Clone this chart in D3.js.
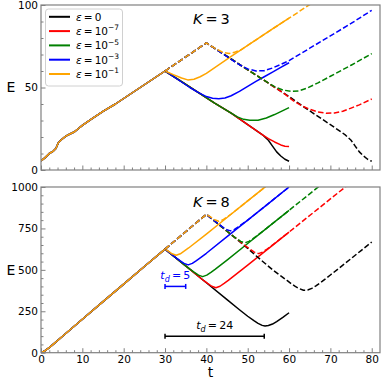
<!DOCTYPE html>
<html><head><meta charset="utf-8">
<script src="https://cdn.jsdelivr.net/npm/d3@7"></script>
<style>body{margin:0;background:#fff}svg{display:block}text{font-family:"DejaVu Sans",sans-serif}</style>
</head><body><script>
// ---------- data ----------
const seriesNames = ["black","red","green","blue","orange"];
const seriesColors = ["black","red","green","blue","orange"];
const epsExponents = [null,"−7","−5","−3","−1"];
const tMajorTicks = [0,10,20,30,40,50,60,70,80];
const eTicksK3 = [0,50,100];
const eTicksK8 = [0,250,500,750,1000];

// K = 3
const k3Common = [[0,5.5],[1,7.5],[2,10],[3,11.5],[3.6,13],[4.2,16.5],[5,18.5],[6,20.5],[7,21.8],[8,23],[9,25],[10,27],[12,30.5],[15,35.5],[18,40],[21,45],[24,50],[27,55],[30,60]];
const k3SolidBlack = [[30,60],[34,53.5],[38,47],[42,40.5],[46,34.5],[50,27.5],[53.5,21.5],[55,18],[56,14.5],[57,11],[58,8.5],[59,6.5],[60,5.3]];
const k3SolidRed = [[30,60],[34,53.5],[38,47],[42,40.5],[46,34.5],[50,27.5],[53.5,21.5],[55,19],[56.5,17],[58,15.2],[59,14.4],[60,14.3]];
const k3SolidGreen = [[30,60],[34,53.5],[38,47],[42,40.5],[46,34.5],[47.5,32.2],[49,30.7],[50.5,30.1],[52.5,30.2],[54.5,31.5],[56.5,33.6],[58.5,36],[60,37.8]];
const k3SolidBlue = [[30,60],[33,55],[36,50],[38,47],[40,44.5],[41.5,43.5],[43,43.2],[44.5,43.6],[46,45],[48,47.7],[50,50.7],[52,53.7],[54,56.5],[56,59.3],[58,62.2],[60,65]];
const k3SolidOrange = [[30,60],[32,57.8],[34,55.8],[35.5,54.6],[37,55],[38.5,56.5],[40,58.6],[43,63.7],[46,68.8],[50,75.5],[53,80.5],[56,85.5],[60,92]];
const k3DashBlack = [[30,60],[35,68.5],[40,77],[44,70.5],[48,64],[52,57.5],[56,51],[60,44.5],[64,37.5],[67,32.5],[70,27.5],[73.5,21.5],[75,18],[76,14.5],[77,11],[78,8.5],[79,6.5],[80,5.3]];
const k3DashRed = [[30,60],[35,68.5],[40,77],[44,70.5],[48,64],[52,57.5],[56,51],[59,46],[61,42],[63,39],[65,36.8],[67,35.2],[69,34.4],[71,34.6],[73,35.6],[75,37.5],[77,39.5],[80,43]];
const k3DashGreen = [[30,60],[35,68.5],[40,77],[44,70.5],[48,64],[52,57.5],[54.5,53.5],[56.5,50.5],[58.5,48.5],[60.5,47.6],[62.5,48],[64.5,49.8],[67,52.8],[70,56.8],[75,63.5],[80,70.5]];
const k3DashBlue = [[30,60],[35,68.5],[40,77],[43,72],[46,67],[48,63.8],[50,61.3],[52,60],[54,60.2],[56,61.8],[58,64],[60,66.3],[65,73.8],[70,81.3],[75,88.8],[80,96.8]];
const k3DashOrange = [[30,60],[35,68.5],[40,77],[42,73.8],[44,71.3],[45.5,70.6],[47,71.5],[48.5,73],[50,75.6],[53,80.5],[56,85.5],[60,92],[62,95.3],[65,100.3],[67,103.6]];

// K = 8
const k8Common = [[0,0],[1,12],[2,31],[3,52],[5,95],[10,202],[15,308],[20,414],[25,520],[30,625]];
const k8SolidBlack = [[30,625],[35,524],[40,422],[45,320],[48,259],[50,220],[51.5,193],[52.5,177],[53.5,165],[54.2,161],[55,164],[56,173],[57,188],[58.5,213],[60,241]];
const k8SolidRed = [[30,625],[35,524],[39.3,436],[40.3,418],[41.3,401],[42.3,392],[43.3,401],[44.3,418],[45.3,436],[50,528],[55,628],[60,728]];
const k8SolidGreen = [[30,625],[35,524],[36.1,503],[37.1,485],[38.1,468],[39.1,459],[40.1,468],[41.1,485],[42.1,503],[45,559],[50,659],[55,759],[60,859]];
const k8SolidBlue = [[30,625],[32.6,574],[33.6,556],[34.6,539],[35.6,530],[36.6,539],[37.6,556],[38.6,574],[40,600],[45,700],[50,800],[55,900],[60,1000]];
const k8SolidOrange = [[30,625],[30.7,614],[31.7,597],[32.7,588],[33.7,597],[34.7,614],[35.7,632],[40,716],[45,816],[50,916],[55,1016]];
const k8DashBlack = [[30,625],[35,730],[40,835],[45,733],[50,630],[52,585],[54,543],[56,501],[58,463],[59.5,436],[60.5,417],[61.5,400],[62.5,386],[63.5,377],[64.5,378],[65.5,388],[66.5,403],[68,430],[70,469],[72.5,518],[75,568],[77.5,618],[80,668]];
const k8DashRed = [[30,625],[35,730],[40,835],[45,733],[49.6,642],[50.6,624],[51.6,607],[52.6,598],[53.6,607],[54.6,624],[55.6,642],[60,728],[65,828],[70,928],[75,1028]];
const k8DashGreen = [[30,625],[35,730],[40,835],[45,733],[46.3,707],[47.3,689],[48.3,672],[49.3,663],[50.3,672],[51.3,689],[52.3,707],[55,759],[60,859],[65,959],[70,1059]];
const k8DashBlue = [[30,625],[35,730],[40,835],[42.8,779],[43.8,761],[44.8,744],[45.8,735],[46.8,744],[47.8,761],[48.8,779],[50,800],[55,900],[60,1000],[62,1040]];
const k8DashOrange = [[30,625],[35,730],[40,835],[41,819],[42,802],[43,793],[44,802],[45,819],[46,837],[50,916],[55,1016]];

// delay annotations (K = 8)
const delayBars = [
  {t0:30, t1:35, e:400, label:"5", color:"blue", labelT:32.5},
  {t0:30, t1:54, e:100, label:"24", color:"black", labelT:42}
];

// ---------- drawing ----------
const W = 381, H = 381;
const svg = d3.select("body").append("svg").attr("width",W).attr("height",H);
const x = d3.scaleLinear().domain([0,82]).range([41,380]);

const panels = [
  {id:"k3", y:d3.scaleLinear().domain([0,100]).range([170,5]), ticks:eTicksK3, minor:d3.range(0,101,10), K:"3",
   common:k3Common, solid:[k3SolidBlack,k3SolidRed,k3SolidGreen,k3SolidBlue,k3SolidOrange],
   dash:[k3DashBlack,k3DashRed,k3DashGreen,k3DashBlue,k3DashOrange], xlabels:false, kBase:23.5},
  {id:"k8", y:d3.scaleLinear().domain([0,1000]).range([352.7,187]), ticks:eTicksK8, minor:d3.range(0,1001,50), K:"8",
   common:k8Common, solid:[k8SolidBlack,k8SolidRed,k8SolidGreen,k8SolidBlue,k8SolidOrange],
   dash:[k8DashBlack,k8DashRed,k8DashGreen,k8DashBlue,k8DashOrange], xlabels:true, kBase:206.5}
];

const frameColor = "#808080";

panels.forEach(p => {
  const y = p.y;
  const [y0,y1] = y.range();
  const g = svg.append("g");
  g.append("clipPath").attr("id","clip-"+p.id).append("rect")
    .attr("x",x.range()[0]).attr("y",y1).attr("width",x.range()[1]-x.range()[0]).attr("height",y0-y1);
  const plot = g.append("g").attr("clip-path","url(#clip-"+p.id+")");
  const line = d3.line().x(d=>x(d[0])).y(d=>y(d[1])).curve(d3.curveLinear);

  seriesNames.forEach((n,i) => {
    plot.append("path").datum(p.common.concat(p.solid[i].slice(1)))
      .attr("d",line).attr("fill","none").attr("stroke",seriesColors[i])
      .attr("stroke-width",1.5).attr("stroke-linejoin","round");
  });
  seriesNames.forEach((n,i) => {
    plot.append("path").datum(p.dash[i])
      .attr("d",line).attr("fill","none").attr("stroke",seriesColors[i])
      .attr("stroke-width",1.5).attr("stroke-linejoin","round").attr("stroke-dasharray","5.5,2.4");
  });

  // axes
  const xAxis = d3.axisBottom(x).tickValues(tMajorTicks).tickSizeInner(-4.5).tickSizeOuter(0).tickPadding(3)
    .tickFormat(p.xlabels ? d3.format("d") : () => "");
  const xMinor = d3.axisBottom(x).tickValues(d3.range(0,82,2).filter(v=>v%10!==0)).tickSizeInner(-2.5).tickSizeOuter(0).tickFormat(()=>"");
  const yAxis = d3.axisLeft(y).tickValues(p.ticks).tickSizeInner(-4.5).tickSizeOuter(0).tickPadding(3).tickFormat(d3.format("d"));
  const yMinor = d3.axisLeft(y).tickValues(p.minor.filter(v=>p.ticks.indexOf(v)<0)).tickSizeInner(-2.5).tickSizeOuter(0).tickFormat(()=>"");
  [[xAxis,"b"],[xMinor,"b"],[yAxis,"l"],[yMinor,"l"]].forEach(([ax,side])=>{
    const a = g.append("g").attr("transform", side==="b" ? `translate(0,${y0})` : `translate(${x.range()[0]},0)`).call(ax);
    a.select(".domain").remove();
    a.selectAll("line").attr("stroke",frameColor).attr("stroke-width",1);
    a.selectAll("text").attr("font-size",10.5).attr("fill","#000").attr("font-family","DejaVu Sans");
  });
  g.append("rect").attr("x",x.range()[0]).attr("y",y1).attr("width",x.range()[1]-x.range()[0]).attr("height",y0-y1)
    .attr("fill","none").attr("stroke",frameColor).attr("stroke-width",1.2);

  // axis label E
  g.append("text").attr("x",11).attr("y",(y0+y1)/2).attr("dy","0.35em").attr("text-anchor","middle")
    .attr("font-size",14).text("E");
  // K label
  const kt = g.append("text").attr("x",193).attr("y",p.kBase).attr("font-size",14.5);
  kt.append("tspan").attr("font-style","italic").text("K");
  kt.append("tspan").text("\u2009=\u2009"+p.K);
});

// x label
svg.append("text").attr("x",210.5).attr("y",377).attr("text-anchor","middle").attr("font-size",14).text("t");

// legend
const lg = svg.append("g");
lg.append("rect").attr("x",45.5).attr("y",9).attr("width",77).attr("height",77).attr("rx",3)
  .attr("fill","white").attr("fill-opacity",0.85).attr("stroke","#d0d0d0").attr("stroke-width",1);
seriesNames.forEach((n,i)=>{
  const cy = 16.8 + i*14.3;
  lg.append("line").attr("x1",49).attr("x2",70).attr("y1",cy).attr("y2",cy).attr("stroke",seriesColors[i]).attr("stroke-width",2);
  const t = lg.append("text").attr("x",76).attr("y",cy+3.8).attr("font-size",10.5);
  t.append("tspan").attr("font-style","italic").text("ε");
  if (epsExponents[i]===null) {
    t.append("tspan").text("\u2009=\u20090");
  } else {
    t.append("tspan").text("\u2009=\u200910");
    t.append("tspan").attr("font-size",7.5).attr("dy",-4.5).text(epsExponents[i]);
  }
});

// delay bars
const yK8 = panels[1].y;
delayBars.forEach(b=>{
  const gy = yK8(b.e);
  const bg = svg.append("g").attr("stroke",b.color).attr("stroke-width",1.5);
  bg.append("line").attr("x1",x(b.t0)).attr("x2",x(b.t1)).attr("y1",gy).attr("y2",gy);
  [b.t0,b.t1].forEach(tt=>bg.append("line").attr("x1",x(tt)).attr("x2",x(tt)).attr("y1",gy-2.5).attr("y2",gy+2.5));
  const t = svg.append("text").attr("x",x(b.labelT)).attr("y",gy-7).attr("text-anchor","middle").attr("font-size",11).attr("fill",b.color);
  t.append("tspan").attr("font-style","italic").text("t");
  t.append("tspan").attr("font-style","italic").attr("font-size",8).attr("dy",2.5).text("d");
  t.append("tspan").attr("dy",-2.5).text("\u2009=\u2009"+b.label);
});
</script></body></html>
